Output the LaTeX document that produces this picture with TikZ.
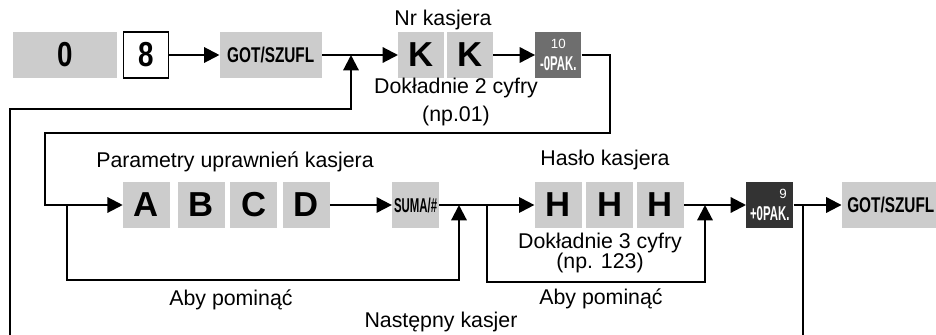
\documentclass[tikz,border=0pt]{standalone}
\usepackage{fontspec}
\setmainfont{Liberation Sans}
\newfontfamily\keyfont{Liberation Sans}[FakeStretch=0.8]
\newfontfamily\wordfont{Liberation Sans}[FakeStretch=0.72]
\newfontfamily\narrowfont{Liberation Sans}[FakeStretch=0.57]
\newfontfamily\letterfont{Liberation Sans}
\usetikzlibrary{arrows.meta, positioning}
\definecolor{keygray}{HTML}{CCCCCC}
\definecolor{minusgray}{HTML}{6E6E6E}
\definecolor{plusgray}{HTML}{333333}
\tikzset{
  key/.style={rectangle, fill=keygray, minimum width=35.25pt, minimum height=34.5pt,
    inner sep=0pt, text centered, font=\letterfont\bfseries\fontsize{26}{27}\selectfont},
  digitkey/.style={key, font=\keyfont\bfseries\fontsize{26}{27}\selectfont},
  wordkey/.style={key, font=\wordfont\bfseries\fontsize{16}{17}\selectfont},
  smallkey/.style={key, font=\narrowfont\bfseries\fontsize{15}{16}\selectfont},
  darkkey/.style={key, text=white, align=center, font=\narrowfont\bfseries\fontsize{15}{16}\selectfont},
  label/.style={font=\fontsize{16}{15}\selectfont, inner sep=0pt},
  arrow/.style={-{Triangle[length=11.5pt,width=11.5pt]}, line width=1.6pt}
}

\begin{document}
\begin{tikzpicture}[x=0.75pt, y=-0.75pt]
\useasboundingbox (0,0) rectangle (936,335);
\clip (0,0) rectangle (936,335);

% first row
\node (zero)  [digitkey, minimum width=78pt]      at (65,55) {0};
\node (eight) [digitkey, fill=white, draw, line width=0.9pt, minimum width=33.75pt,
               right=4.5pt of zero]               {8};
\node (got1)  [wordkey, minimum width=76.5pt, right=37.5pt of eight] {GOT/SZUFL};
\node (k1)    [key, minimum width=34.5pt, right=57pt of got1] {K};
\node (k2)    [key, minimum width=34.5pt, right=1.5pt of k1]  {K};
\node (minus) [darkkey, fill=minusgray, minimum width=34.5pt, right=31.5pt of k2]
              {{\letterfont\mdseries\fontsize{10}{10}\selectfont 10}\\-0PAK.};

% second row
\node (a)     [key]                          at (146.5,205) {A};
\node (b)     [key, right=5.25pt of a]       {B};
\node (c)     [key, right=3.75pt of b]       {C};
\node (d)     [key, right=3.75pt of c]       {D};
\node (suma)  [smallkey, right=46.5pt of d]  {SUMA/\#};
\node (h1)    [key, right=71.25pt of suma]   {H};
\node (h2)    [key, right=3pt of h1]         {H};
\node (h3)    [key, right=2.25pt of h2]      {H};
\node (plus)  [darkkey, fill=plusgray, align=right, right=46.5pt of h3]
              {{\letterfont\mdseries\fontsize{10}{10}\selectfont 9\hspace*{2pt}}\\+0PAK.};
\node (got2)  [wordkey, minimum width=73.5pt, right=36pt of plus] {GOT/SZUFL};

% texts
\node (nrk)   [label] at (443,20)  {Nr kasjera};
\node (dok2)  [label, align=center] at (456,102) {Dokładnie 2 cyfry\\[6pt](np.01)};
\node (param) [label] at (235,162) {Parametry uprawnień kasjera};
\node (haslo) [label] at (605,160) {Hasło kasjera};
\node (dok3)  [label, align=center] at (600,253) {Dokładnie 3 cyfry\\(np. 123)};
\node (aby1)  [label] at (231,300) {Aby pominąć};
\node (aby2)  [label] at (601,299) {Aby pominąć};
\node (nast)  [label] at (441,322) {Następny kasjer};

% corner points
\coordinate (back1)  at (610,133);
\coordinate (back2)  at (45,133);
\coordinate (skip1a) at (67,205);
\coordinate (skip1b) at (459,205);
\coordinate (skip2a) at (487,205);
\coordinate (skip2b) at (705,205);
\coordinate (next1)  at (803,205);
\coordinate (next2)  at (351,55);

\draw [arrow] (eight) -- (got1);
\draw [arrow] (got1)  -- (k1);
\draw [arrow] (k2)    -- (minus);
\draw [arrow] (minus) -| (back1) -- (back2) |- (a);
\draw [arrow] (d)     -- (suma);
\draw [arrow] (suma)  -- (h1);
\draw [arrow] (h3)    -- (plus);
\draw [arrow] (plus)  -- (got2);
\draw [arrow] (skip1a) -- ++(0,75) -| (skip1b);
\draw [arrow] (skip2a) -- ++(0,77) -| (skip2b);
\draw [arrow] (next1) -- (803,345) -| (10,109) -| (next2);
\end{tikzpicture}
\end{document}
